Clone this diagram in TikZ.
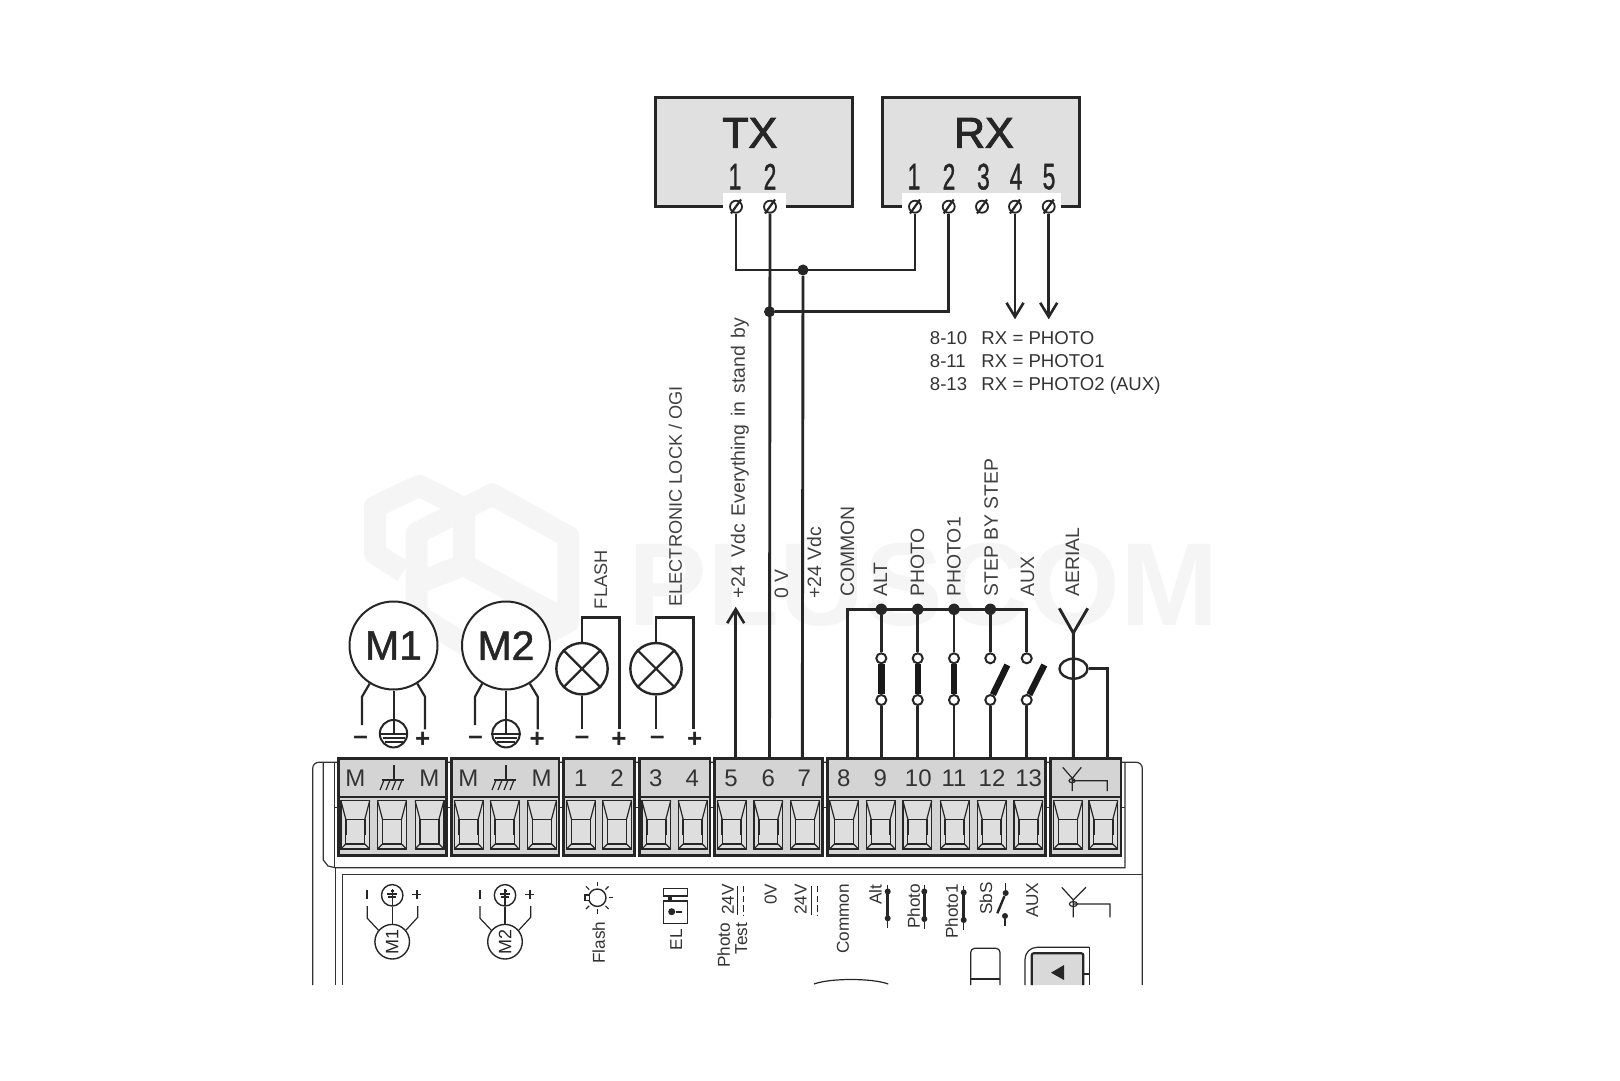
\documentclass[tikz,border=0pt]{standalone}
\usepackage{fontspec}
\setmainfont{Liberation Sans}
\newfontfamily\headfont[FakeBold=2.2]{Liberation Sans}
\newfontfamily\pinfont[FakeBold=1.2]{Liberation Sans}
\usetikzlibrary{arrows.meta,shapes.geometric}
\newcommand{\fsz}[1]{\fontsize{#1}{#1}\selectfont}
\newcommand{\wsp}{\hspace{4pt}}

\begin{document}
\begin{tikzpicture}[x=0.5pt,y=-0.5pt,line join=miter,
  wire/.style={line width=1.45pt,draw=black!85},
  thinline/.style={line width=0.6pt,draw=black!85},
  caseline/.style={line width=0.6pt,draw=black!80},
  device/.style={draw=black!85,line width=1.5pt,fill=black!12,minimum width=98.5pt,minimum height=54.7pt,inner sep=0pt},
  head/.style={font=\headfont\fsz{21.5},inner sep=0pt,text=black!85},
  pinnum/.style={font=\pinfont\fsz{18.5},inner sep=0pt,xscale=0.62,text=black!85},
  screw/.style={circle,draw=black!85,line width=0.9pt,fill=white,minimum size=6pt,inner sep=0pt},
  slash/.style={line width=1.1pt,draw=black!85},
  arrowwire/.style={wire,-{Straight Barb[length=7pt,width=8.5pt,line width=1.3pt]}},
  dot/.style={circle,fill=black!85,minimum size=5.5pt,inner sep=0pt},
  vlabel/.style={rotate=90,anchor=west,inner sep=0pt,font=\fsz{9.7},text=black!75,text height=0.72em,text depth=0pt},
  plabel/.style={rotate=90,anchor=west,inner sep=0pt,font=\fsz{8.6},text=black!80,text height=0.72em,text depth=0pt},
  rxlabel/.style={anchor=base west,inner sep=0pt,font=\fsz{9.3},text=black!80},
  motor/.style={circle,draw=black!85,line width=1pt,minimum size=44pt,inner sep=0pt,fill=white,font=\pinfont\fsz{20.5},text=black!85},
  lamp/.style={circle,draw=black!85,line width=1.2pt,minimum size=25.7pt,inner sep=0pt,fill=white},
  earth/.style={circle,draw=black!85,line width=1pt,minimum size=13.7pt,inner sep=0pt,fill=white},
  sign/.style={inner sep=0pt,font=\bfseries\fsz{13},text=black!85},
  termlabel/.style={inner sep=0pt,font=\fsz{12},text=black!80},
  contact/.style={circle,draw=black!85,line width=1pt,fill=white,minimum size=5pt,inner sep=0pt},
  bar/.style={line width=3.2pt,draw=black!90},
  smallc/.style={circle,fill=black!85,minimum size=3pt,inner sep=0pt}]

  \useasboundingbox (0,0) rectangle (1620,1080);

  % watermark
  \begin{scope}[line width=11pt,draw=black!4,line join=round]
    \draw (403.3,571.7) -- (375,553.3) -- (375,506.7) -- (419.3,485.7) -- (464,508.3) -- (464,565);
    \draw (492.3,494.3) -- (568.3,536.7) -- (568.3,621.7) -- (493.3,661.7) -- (416.7,615) -- (416.7,533.3) -- cycle;
    \draw (416.7,583.3) -- (464,565) -- (568.3,621.7);
  \end{scope}
  \node[inner sep=0pt,font=\bfseries\fsz{59},text=black!4] (mark) at (923.5,585) {PLUSCOM};

  % devices
  \node[device] (TX) at (753.5,152) {};
  \node[device] (RX) at (980.5,152) {};
  \fill[white] (723,193.3) rectangle (785.6,208.5);
  \fill[white] (902,193.3) rectangle (1061,208.5);
  \node[head] (TXname) at (749.8,132.8) {TX};
  \node[head] (RXname) at (983.8,132.8) {RX};
  \foreach \n/\x in {1/735,2/770}
    \node[pinnum] (txn\n) at (\x,176.7) {\n};
  \foreach \n/\x in {1/914,2/949,3/983.4,4/1016,5/1049}
    \node[pinnum] (rxn\n) at (\x,176.7) {\n};

  % case of the board
  \draw[caseline,rounded corners=3pt] (312.7,985) -- (312.7,762.3) -- (1142.3,762.3) -- (1142.3,985);
  \draw[caseline] (323.3,762.3) -- (323.3,860) -- (328,866) -- (335,867.7) -- (1125,867.7) -- (1125,762.3);
  \draw[caseline] (334.3,762.3) -- (334.3,867.7);
  \draw[caseline] (334.3,807.7) -- (1125,807.7);
  \draw[caseline] (335.7,985) -- (335.7,867.7);
  \draw[caseline] (342.3,985) -- (342.3,874.5) -- (1142.3,874.5);

  % terminal blocks
  \foreach \xa/\xb in {338.7/446.7,451.3/559,563.7/634.3,639.3/710,714.3/822.3,827.3/1045.3,1050.7/1121}{
    \draw[line width=1.3pt,draw=black!85,fill=black!17] (\xa,758.3) rectangle (\xb,855.7);
    \draw[line width=0.8pt,draw=black!85] (\xa,796.7) -- (\xb,796.7);
  }
  \foreach \c in {355.3,392,429.5,468.7,504.7,542,581,617,656.3,692.7,731.7,768.3,805,844,880.7,917.3,954.7,991.7,1028.3,1068,1103.3}{
    \draw[thinline,fill=black!13] (\c-14.4,800.7) rectangle (\c+14.4,849);
    \draw[thinline] (\c-9.5,819.3) rectangle (\c+9.5,844);
    \draw[thinline] (\c-14.4,800.7) -- (\c-9.5,819.3) (\c+14.4,800.7) -- (\c+9.5,819.3)
      (\c-14.4,849) -- (\c-9.5,844) (\c+14.4,849) -- (\c+9.5,844);
    \draw[line width=0.8pt,draw=black!85] (\c-9.5,819.3) -- (\c-9.5,835) (\c+9.5,819.3) -- (\c+9.5,835);
  }
  \foreach \x/\t [count=\i] in {355.3/M,429.3/M,468.3/M,541.7/M,580.7/1,617/2,655.7/3,692.3/4,731/5,768.3/6,804.3/7,843.7/8,880.3/9,918.3/10,954/11,992/12,1028.7/13}
    \node[termlabel] (lab\i) at (\x,778.3) {\t};
  % ground in the block
  \foreach \x in {394,506}{
    \draw[thinline] (\x,765) -- (\x,780) (\x-12,780) -- (\x+10,780);
    \foreach \d in {-10,-4,2,8}
      \draw[thinline] (\x+\d,780) -- (\x+\d-4,790);
  }
  % aerial in the block
  \draw[thinline] (1062.7,767.3) -- (1072.3,778.3) -- (1081.3,767.3) (1072.3,778.3) -- (1072.3,791)
    (1072.3,780.7) -- (1107.3,780.7) -- (1107.3,791);
  \draw[thinline] (1072,780.7) ellipse (3 and 2);

  % terminal points
  \foreach \n/\x in {5/735.7,6/769.5,7/802.3,8/847.7,9/881.3,10/917.7,11/954,12/990.3,13/1026.7,14/1073.3,15/1107.3}
    \coordinate (t\n) at (\x,758);

  % screws
  \foreach \n/\x in {1/736,2/770}{
    \node[screw] (txs\n) at (\x,206.7) {};
    \draw[slash] (\x-5,213.5) -- (\x+5,199.5);
  }
  \foreach \n/\x in {1/915,2/948.7,3/982,4/1015,5/1048.7}{
    \node[screw] (rxs\n) at (\x,206.7) {};
    \draw[slash] (\x-5,213.5) -- (\x+5,199.5);
  }

  % TX RX wiring
  \node[dot] (d7) at (803,270) {};
  \node[dot] (d6) at (769.5,311.7) {};
  \draw[wire] (txs1) -- (txs1 |- d7) -- (rxs1 |- d7) -- (rxs1);
  \draw[wire] (txs2) -- (t6);
  \draw[wire] (d6) -- (rxs2 |- d6) -- (rxs2);
  \draw[wire] (d7) -- (t7);
  \coordinate (a4) at (1015,319.3);
  \coordinate (a5) at (1048.7,319.3);
  \draw[arrowwire] (rxs4) -- (a4);
  \draw[arrowwire] (rxs5) -- (a5);
  \node[rxlabel] (rxt1) at (929.5,344) {\makebox[25.8pt][l]{8-10}RX = PHOTO};
  \node[rxlabel] (rxt2) at (929.5,367) {\makebox[25.8pt][l]{8-11}RX = PHOTO1};
  \node[rxlabel] (rxt3) at (929.5,390) {\makebox[25.8pt][l]{8-13}RX = PHOTO2 (AUX)};

  % motors
  \foreach \m/\x/\l/\r in {M1/393.5/362/425,M2/506/475/537.7}{
    \node[motor] (\m) at (\x,645.5) {\m};
    \node[earth] (e\m) at (\x,733.7) {};
    \draw[thinline,line width=1pt] (\m) -- (e\m.center);
    \draw[line width=1.1pt,draw=black!85] (e\m.west) -- (e\m.east);
    \draw[line width=0.9pt,draw=black!85] (\x-11,738) -- (\x+11,738);
    \draw[line width=0.9pt,draw=black!85] (\x-9,742) -- (\x+9,742);
    \draw[line width=1.1pt,draw=black!85] (\m.-122) -- (\l,696.7) -- (\l,725);
    \draw[line width=1.1pt,draw=black!85] (\m.-58) -- (\r,696.7) -- (\r,729.3);
  }
  \foreach \x/\t [count=\i] in {360.7/--,422.7/+,475.7/--,537.3/+,582/--,619/+,657.3/--,694.7/+}
    \node[sign] (sg\i) at (\x,740) {\t};

  % lamps
  \node[lamp] (L1) at (582,668.7) {};
  \node[lamp] (L2) at (656,668.7) {};
  \coordinate (f1) at (582,617.3);
  \coordinate (f2) at (619.3,617.3);
  \coordinate (f3) at (619.3,729.3);
  \coordinate (f4) at (582,729.3);
  \draw[wire] (L1) -- (f1) -- (f2) -- (f3);
  \draw[wire] (L1) -- (f4);
  \coordinate (g1) at (656,617.3);
  \coordinate (g2) at (693.7,617.3);
  \coordinate (g3) at (693.7,729.3);
  \coordinate (g4) at (656,729.3);
  \draw[wire] (L2) -- (g1) -- (g2) -- (g3);
  \draw[wire] (L2) -- (g4);
  \foreach \l in {L1,L2}
    \draw[line width=1.1pt,draw=black!85] (\l.45) -- (\l.225) (\l.135) -- (\l.-45);

  % arrow on 5
  \coordinate (a0) at (735.7,606.7);
  \draw[arrowwire] (t5) -- (a0);

  % contacts
  \coordinate (bus8) at (847.7,609.3);
  \coordinate (bus13) at (1026.7,609.3);
  \foreach \n/\x in {9/881.3,10/917.7,11/954,12/990.3}
    \node[dot,minimum size=5.7pt] (b\n) at (\x,609.3) {};
  \foreach \n/\x in {9/881.3,10/917.7,11/954,12/990.3,13/1026.7}{
    \node[contact] (ct\n) at (\x,658.3) {};
    \node[contact] (cb\n) at (\x,700) {};
  }
  \draw[wire] (t8) -- (bus8) -- (bus13) -- (ct13);
  \foreach \n in {9,10,11,12}
    \draw[wire] (b\n) -- (ct\n);
  \foreach \n in {9,10,11,12,13}
    \draw[wire] (cb\n) -- (t\n);
  \foreach \n in {9,10,11}
    \draw[bar] (ct\n) -- (cb\n);
  \coordinate (s12) at (1007.3,665);
  \coordinate (s13) at (1044.3,665);
  \draw[bar] (cb12) -- (s12);
  \draw[bar] (cb13) -- (s13);

  % aerial
  \coordinate (y0) at (1073.3,633);
  \coordinate (y1) at (1059.3,608.3);
  \coordinate (y2) at (1087.7,608.3);
  \node[draw=black!85,line width=1.2pt,ellipse,minimum width=14pt,minimum height=10pt,inner sep=0pt] (coil) at (1073.5,668.7) {};
  \coordinate (c1) at (1107.3,668.7);
  \draw[wire] (t14) -- (y0) -- (y1) (y0) -- (y2);
  \draw[wire] (coil.east) -- (c1) -- (t15);

  % labels of the wires
  \node[vlabel] (v5) at (737.6,599) {+24\wsp Vdc\wsp Everything\wsp in\wsp stand\wsp by};
  \node[vlabel] (v6) at (781,599) {0 V};
  \node[vlabel] (v7) at (814,599) {+24 Vdc};
  \node[vlabel,font=\fsz{9.1}] (v1) at (600,609.5) {FLASH};
  \node[vlabel,font=\fsz{9.1}] (v3) at (674.6,607) {ELECTRONIC LOCK / OGI};
  \node[vlabel] (v8) at (847,597) {COMMON};
  \node[vlabel] (v9) at (880,597) {ALT};
  \node[vlabel] (v10) at (917,597) {PHOTO};
  \node[vlabel] (v11) at (953.5,597) {PHOTO1};
  \node[vlabel] (v12) at (990.7,597) {STEP BY STEP};
  \node[vlabel] (v13) at (1026.8,597) {AUX};
  \node[vlabel] (v14) at (1072,597) {AERIAL};

  % panel, motors
  \foreach \m/\x/\l/\r in {M1/392.2/367.3/417.7,M2/505/480/530.7}{
    \node[circle,draw=black!85,line width=0.7pt,minimum size=17.3pt,inner sep=0pt] (p\m) at (\x,941.7) {};
    \node[rotate=90,inner sep=0pt,font=\fsz{9},text=black!85] (pt\m) at (\x,941.7) {\m};
    \node[circle,draw=black!85,line width=0.7pt,minimum size=10.7pt,inner sep=0pt] (pe\m) at (\x,895.3) {};
    \draw[thinline] (pe\m) -- (p\m);
    \draw[thinline] (\x,889) -- (\x,906) (\x-5,894) -- (\x+5,894) (\x-4,897) -- (\x+4,897) (\x-1.5,891) -- (\x+1.5,891);
    \draw[thinline] (p\m.140) -- (\l,918.3) -- (\l,906);
    \draw[thinline] (p\m.40) -- (\r,917.3) -- (\r,906);
    \draw[line width=0.9pt,draw=black!85] (\l,890) -- (\l,899);
    \draw[line width=0.9pt,draw=black!85] (\r-1,890) -- (\r-1,899) (\r-5.5,894.5) -- (\r+3.5,894.5);
  }

  % panel, flash
  \node[circle,draw=black!85,line width=0.7pt,minimum size=8.7pt,inner sep=0pt] (sun) at (597.3,897.7) {};
  \draw[thinline,fill=white] (585,895) rectangle (589.3,900.7);
  \foreach \a in {-90,-45,0,45,90,135,225}
    \draw[thinline] (sun.center) ++(\a:11.5) -- ++(\a:4.5);
  \node[plabel] (pflash) at (597.7,964) {Flash};

  % panel, lock
  \draw[thinline,line width=0.8pt] (663.3,900.7) rectangle (687.3,923.3);
  \draw[thinline,line width=0.8pt] (663.3,888.3) rectangle (687.3,896);
  \fill[black!85] (668,896) rectangle (672,900.7);
  \node[smallc,minimum size=3.5pt] (keyh) at (671.7,911.7) {};
  \coordinate (keyt) at (681.7,911.7);
  \draw[line width=1pt,draw=black!85] (keyh) -- (keyt);
  \node[plabel] (pel) at (675,950.7) {EL};

  % panel, supply
  \node[plabel] (pphoto) at (722.7,968.3) {Photo};
  \node[plabel] (ptest) at (740,955) {Test};
  \node[plabel] (p24a) at (726.7,915) {24V};
  \node[plabel] (p0v) at (769.3,905) {0V};
  \node[plabel] (p24b) at (799.3,915) {24V};
  \foreach \x in {737.5,811.7}{
    \draw[thinline] (\x,886) -- (\x,915);
    \draw[thinline,dash pattern=on 3.2pt off 1.6pt] (\x+5.7,886) -- (\x+5.7,915);
  }
  \node[plabel] (pcom) at (841.7,954.3) {Common};
  \node[plabel] (palt) at (874.3,905) {Alt};
  \node[plabel] (pph) at (912.7,929) {Photo};
  \node[plabel] (pph1) at (950.7,939) {Photo1};
  \node[plabel] (psbs) at (985,915) {SbS};
  \node[plabel] (paux) at (1031,918.3) {AUX};
  \foreach \x/\top/\bot [count=\i] in {887.7/885/928.3,924.3/885/929,963.7/886/930}{
    \draw[thinline] (\x,\top) -- (\x,\bot);
    \draw[line width=1.4pt,draw=black!85] (\x,\top+6.5) -- (\x,\bot-10);
    \node[smallc] (pa\i) at (\x,\top+6.5) {};
    \node[smallc] (pb\i) at (\x,\bot-10) {};
  }
  \node[smallc] (sa) at (1005.7,893) {};
  \node[smallc] (sb) at (1005,916) {};
  \coordinate (sa0) at (1005.7,883.3);
  \coordinate (sb0) at (1005,926);
  \coordinate (sw) at (997.3,913.3);
  \draw[thinline] (sa0) -- (sa) (sb) -- (sb0);
  \draw[line width=1.2pt,draw=black!85] (sa) -- (sw);

  % panel, aerial
  \draw[thinline] (1061.7,887.3) -- (1073.3,900) -- (1086,887.3) (1073.3,900) -- (1073.3,917.3)
    (1073.3,904) -- (1110,904) -- (1110,917.3);
  \draw[thinline] (1073.3,904) ellipse (4 and 2.5);

  % panel, buttons
  \draw[thinline,rounded corners=2pt] (970.7,985) -- (970.7,948.3) -- (1000,948.3) -- (1000,985);
  \draw[thinline] (970.7,979) -- (1000,979);
  \draw[thinline,rounded corners=6pt] (1025,985) -- (1025,947.3) -- (1089.3,947.3);
  \draw[thinline] (1089.3,947.3) -- (1089.3,985);
  \draw[line width=1.1pt,draw=black!85,fill=black!15,rounded corners=1pt] (1031.7,985) -- (1031.7,953.3) -- (1083.3,953.3) -- (1083.3,985);
  \draw[thinline] (1083.3,974) -- (1089.3,974);
  \fill[black!85] (1051,972.7) -- (1064,965) -- (1064,980) -- cycle;
  \draw[thinline] (814,984) .. controls (830,978) and (872,978) .. (888.3,984);
\end{tikzpicture}
\end{document}
